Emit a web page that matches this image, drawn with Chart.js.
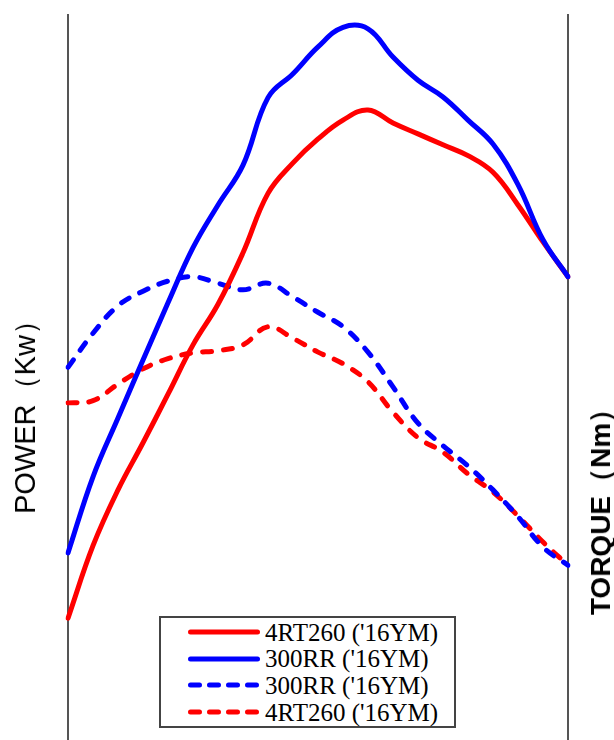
<!DOCTYPE html>
<html>
<head>
<meta charset="utf-8">
<title>Power / Torque</title>
<script src="https://cdn.jsdelivr.net/npm/chart.js@4.4.1/dist/chart.umd.min.js"></script>
<style>
  html, body { margin: 0; padding: 0; background: #fff; }
  #wrap { position: relative; width: 614px; height: 740px; overflow: hidden; }
  #chart { position: absolute; left: 0; top: 0; }

  .axisTitle {
    position: absolute;
    white-space: nowrap;
    line-height: 1;
    color: #000;
    transform: translate(-50%, -50%) rotate(-90deg);
  }
  #titleLeft  { left: 26px;  top: 410px; font: 29px "Liberation Sans", Arial, sans-serif; }
  #titleRight { left: 601px; top: 505px; font: bold 28px "Liberation Sans", Arial, sans-serif; }

  #legend {
    position: absolute;
    left: 159px; top: 616px;
    width: 293px; height: 107px;
    border: 2px solid #444;
    background: #fff;
    padding-top: 1px;
    box-sizing: content-box;
  }
  #legend .row { display: flex; align-items: center; height: 26.6px; padding-left: 27px; }
  #legend svg { display: block; flex: none; }
  #legend span {
    margin-left: 5px;
    font: 25px "Liberation Serif", "Times New Roman", serif;
    color: #000;
    line-height: 1;
  }
</style>
</head>
<body>
<div id="wrap">
  <canvas id="chart" width="614" height="740"></canvas>
  <div class="axisTitle" id="titleLeft">POWER（Kw）</div>
  <div class="axisTitle" id="titleRight">TORQUE（Nm）</div>
  <div id="legend"></div>
</div>

<script>
/* ================= DATA ================= */
// engine speed steps (x axis has no printed ticks)
const steps = ["1","2","3","4","5","6","7","8","9","10","11",
               "12","13","14","15","16","17","18","19","20","21"];

// relative scale, 0..100
const power4RT  = [16.8, 26.8, 34.5, 41.0, 47.7, 54.5, 60.1, 67.2, 75.4, 79.6, 82.9,
                   85.5, 86.9, 85.1, 83.6, 82.1, 80.6, 78.3, 73.8, 68.7, 63.9];
const power300  = [25.8, 36.3, 44.4, 52.4, 60.3, 67.9, 73.8, 79.3, 88.6, 91.9, 95.6,
                   98.3, 98.1, 94.2, 91.0, 88.7, 85.5, 82.2, 76.6, 69.0, 63.9];
const torque300 = [51.4, 56.1, 59.9, 61.9, 63.3, 63.9, 63.0, 62.1, 63.0, 61.1, 59.0,
                   57.0, 53.5, 48.7, 43.7, 40.6, 37.8, 34.5, 30.8, 26.6, 24.1];
const torque4RT = [46.5, 46.8, 49.1, 51.2, 52.6, 53.4, 53.7, 54.5, 57.0, 55.4, 53.5,
                   51.9, 49.4, 45.2, 41.7, 39.7, 36.7, 34.2, 30.9, 27.3, 24.1];

const seriesNames = ["4RT260 ('16YM)", "300RR ('16YM)", "300RR ('16YM)", "4RT260 ('16YM)"];

const RED  = "#ff0000";
const BLUE = "#0000ff";
const DASH = [9, 12];

/* ================= CHART ================= */
const ctx = document.getElementById("chart").getContext("2d");

const edge = {
  ticks: { display: false },
  grid: { display: false, drawTicks: false },
  border: { display: true, color: "#555", width: 2 },
  min: 0,
  max: 100
};

const chart = new Chart(ctx, {
  type: "line",
  data: {
    labels: steps,
    datasets: [
      { label: seriesNames[0], data: power4RT,  borderColor: RED,  order: 1 },
      { label: seriesNames[1], data: power300,  borderColor: BLUE, order: 0 },
      { label: seriesNames[2], data: torque300, borderColor: BLUE, order: 2, borderDash: DASH },
      { label: seriesNames[3], data: torque4RT, borderColor: RED,  order: 3, borderDash: DASH }
    ]
  },
  options: {
    responsive: false,
    animation: false,
    devicePixelRatio: 1,
    layout: { padding: { left: 68, right: 46, top: 15, bottom: 0 } },
    elements: {
      point: { radius: 0 },
      line: { borderWidth: 5, tension: 0.4, borderCapStyle: "round", fill: false }
    },
    plugins: {
      legend: { display: false },
      tooltip: { enabled: false }
    },
    scales: {
      x: { type: "category", display: false, offset: false },
      y: { ...edge, position: "left" },
      y1: { ...edge, position: "right" }
    }
  }
});

/* ================= LEGEND ================= */
function buildLegend(chart){
  const box = document.getElementById("legend");
  box.innerHTML = "";
  chart.data.datasets.forEach(ds => {
    const dashed = !!ds.borderDash;
    const row = document.createElement("div");
    row.className = "row";
    row.innerHTML = `
      <svg width="72" height="8">
        <line x1="2.5" y1="4" x2="69.5" y2="4" stroke="${ds.borderColor}" stroke-width="5"
              stroke-linecap="round" ${dashed ? 'stroke-dasharray="9 10"' : ""}/>
      </svg>
      <span>${ds.label}</span>`;
    box.appendChild(row);
  });
}
buildLegend(chart);
</script>
</body>
</html>
